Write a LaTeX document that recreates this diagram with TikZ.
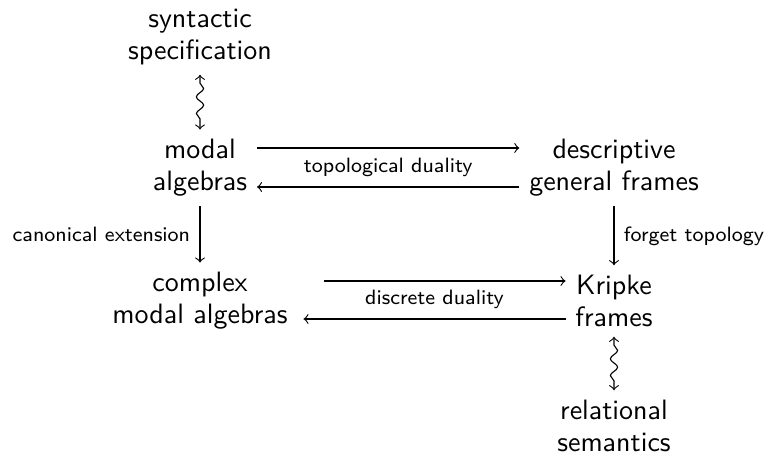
\documentclass[tikz,border=0pt]{standalone}
\usetikzlibrary{calc,decorations.pathmorphing}
\tikzset{
  obj/.style={align=center, font=\sffamily\fontsize{10}{11.4}\selectfont},
  lbl/.style={font=\sffamily\fontsize{7.4}{8.9}\selectfont},
  squig/.style={<->, decorate, decoration={snake, amplitude=1.3pt, segment length=6pt, pre length=3pt, post length=3pt}}
}

\begin{document}
\begin{tikzpicture}[x=0.357pt, y=-0.357pt]
	%%%%% START %%%%%
	\useasboundingbox (0, 0) rectangle (768, 456);
	
	\node[obj] (syn) at (200, 37) {syntactic\\specification};
	\node[obj] (ma) at (200, 168) {modal\\algebras};
	\node[obj] (dgf) at (614, 168) {descriptive\\general frames};
	\node[obj] (cma) at (200, 301) {complex\\modal algebras};
	\node[obj] (kf) at (614, 301) {Kripke\\frames};
	\node[obj] (rs) at (614, 426) {relational\\semantics};
	
	\draw[squig] (syn) -- (ma);
	\draw[squig] (kf) -- (rs);
	
	\draw[->] ($(ma.east)+(0, -20)$) -- ($(dgf.west)+(0, -20)$);
	\draw[->] ($(dgf.west)+(0, 19)$) -- node[lbl, above] {topological duality} ($(ma.east)+(0, 19)$);
	
	\draw[->] (ma) -- node[lbl, left] {canonical extension} (cma);
	\draw[->] (dgf) -- node[lbl, right] {forget topology} (kf);
	
	\draw[->] ($(cma.east)+(27, -20)$) -- ($(kf.west)+(0, -20)$);
	\draw[->] ($(kf.west)+(0, 18)$) -- node[lbl, above] {discrete duality} ($(cma.east)+(6, 18)$);
	
	%%%%% END %%%%%
\end{tikzpicture}
\end{document}
